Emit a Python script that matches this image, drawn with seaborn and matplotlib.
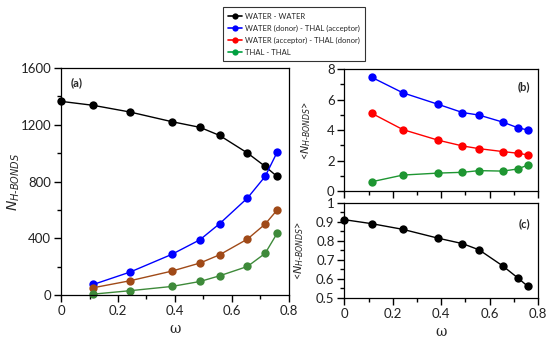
import numpy as np
import pandas as pd
import matplotlib
matplotlib.use("Agg")
import matplotlib.pyplot as plt
import seaborn as sns
from matplotlib.lines import Line2D
from matplotlib.ticker import MultipleLocator

sns.set_style("ticks")
plt.rcParams['font.family'] = ['Lato', 'DejaVu Sans']
plt.rcParams['mathtext.fontset'] = 'dejavusans'

# ---------------- DATA ----------------
omega = [0.0, 0.113, 0.242, 0.389, 0.488, 0.557, 0.655, 0.717, 0.759]

# panel (a): total number of H-bonds
n_ww = [1365, 1337, 1290, 1222, 1182, 1125, 1001, 907, 836]
n_wd_ta = [75, 162, 287, 390, 503, 684, 836, 1006]
n_wa_td = [52, 101, 169, 226, 284, 395, 500, 599]
n_tt = [7, 31, 61, 96, 136, 202, 294, 435]

# panel (b): average number of H-bonds per molecule
avg_wd_ta = [7.46, 6.44, 5.68, 5.15, 4.98, 4.52, 4.15, 4.00]
avg_wa_td = [5.10, 4.03, 3.33, 2.96, 2.78, 2.59, 2.48, 2.37]
avg_tt = [0.61, 1.05, 1.18, 1.23, 1.34, 1.31, 1.45, 1.71]

# panel (c): water - water average
avg_ww = [0.912, 0.891, 0.861, 0.814, 0.786, 0.753, 0.668, 0.605, 0.560]

labels = ["WATER - WATER", "WATER (donor) - THAL (acceptor)",
          "WATER (acceptor) - THAL (donor)", "THAL - THAL"]
colors = ["black", "#0000ff", "#ff0000", "#00a040"]

ylab_a = r'$N_{\mathit{H\text{-}BONDS}}$'
ylab_bc = '<' + r'$N_{\mathit{H\text{-}BONDS}}$' + '>'

fig = plt.figure(figsize=(5.5, 3.4), dpi=100)
ax_a = fig.add_axes([0.111, 0.132, 0.414, 0.668])
ax_b = fig.add_axes([0.626, 0.438, 0.352, 0.359])
ax_c = fig.add_axes([0.626, 0.124, 0.352, 0.279])

line_kw = dict(marker='o', markersize=6, linewidth=1.0, markeredgewidth=0)


def draw(ax, x, y, color):
    sns.lineplot(x=x, y=y, ax=ax, color=color, **line_kw)


# ---------------- PANEL (a) ----------------
draw(ax_a, omega, n_ww, "black")
draw(ax_a, omega[1:], n_wd_ta, "#0000ff")
draw(ax_a, omega[1:], n_wa_td, "#a04a18")
draw(ax_a, omega[1:], n_tt, "#3e8a3a")
ax_a.set_xlim(0, 0.8)
ax_a.set_ylim(0, 1600)
ax_a.set_xticks([0, 0.2, 0.4, 0.6, 0.8])
ax_a.set_xticklabels(['0', '0.2', '0.4', '0.6', '0.8'])
ax_a.xaxis.set_minor_locator(MultipleLocator(0.1))
ax_a.yaxis.set_major_locator(MultipleLocator(400))
ax_a.yaxis.set_minor_locator(MultipleLocator(200))
ax_a.set_xlabel('ω', fontsize=10, family='DejaVu Serif')
ax_a.set_ylabel(ylab_a, fontsize=10)
ax_a.text(0.04, 0.96, '(a)', transform=ax_a.transAxes, fontsize=8,
          fontweight='bold', va='top')

# ---------------- PANEL (b) ----------------
draw(ax_b, omega[1:], avg_wd_ta, "#0000ff")
draw(ax_b, omega[1:], avg_wa_td, "#ff0000")
draw(ax_b, omega[1:], avg_tt, "#1e9632")
ax_b.set_xlim(0, 0.8)
ax_b.set_ylim(0, 8)
ax_b.xaxis.set_major_locator(MultipleLocator(0.2))
ax_b.xaxis.set_minor_locator(MultipleLocator(0.1))
ax_b.yaxis.set_major_locator(MultipleLocator(2))
ax_b.yaxis.set_minor_locator(MultipleLocator(1))
ax_b.set_xticklabels([])
ax_b.set_ylabel(ylab_bc, fontsize=8)
ax_b.text(0.96, 0.9, '(b)', transform=ax_b.transAxes, fontsize=8,
          fontweight='bold', va='top', ha='right')

# ---------------- PANEL (c) ----------------
draw(ax_c, omega, avg_ww, "black")
ax_c.set_xlim(0, 0.8)
ax_c.set_ylim(0.5, 1.0)
ax_c.set_xticks([0, 0.2, 0.4, 0.6, 0.8])
ax_c.set_xticklabels(['0', '0.2', '0.4', '0.6', '0.8'])
ax_c.xaxis.set_minor_locator(MultipleLocator(0.1))
ax_c.set_yticks([0.5, 0.6, 0.7, 0.8, 0.9, 1.0])
ax_c.set_yticklabels(['0.5', '0.6', '0.7', '0.8', '0.9', '1'])
ax_c.yaxis.set_minor_locator(MultipleLocator(0.05))
ax_c.set_xlabel('ω', fontsize=10, family='DejaVu Serif')
ax_c.set_ylabel(ylab_bc, fontsize=8)
ax_c.text(0.96, 0.84, '(c)', transform=ax_c.transAxes, fontsize=8,
          fontweight='bold', va='top', ha='right')

for ax in (ax_a, ax_b, ax_c):
    ax.tick_params(axis='both', which='major', direction='out', length=5,
                   width=1.0, color='black', labelsize=9.5, pad=2,
                   labelcolor='#222222')
    ax.tick_params(axis='both', which='minor', direction='out', length=3,
                   width=1.0, color='black')
    for sp in ax.spines.values():
        sp.set_visible(True)
        sp.set_linewidth(0.9)
        sp.set_color('black')
    for ln in ax.lines:
        ln.set_clip_on(False)

ax_a.yaxis.set_label_coords(-0.17, 0.5)
ax_b.yaxis.set_label_coords(-0.16, 0.5)
ax_c.yaxis.set_label_coords(-0.2, 0.5)

# ---------------- LEGEND ----------------
handles = [Line2D([], [], color=c, marker='o', markersize=4.5,
                  markeredgewidth=0, linewidth=1.2) for c in colors]
leg = fig.legend(handles, labels, loc='upper center',
                 bbox_to_anchor=(0.535, 0.99), fontsize=5.5, frameon=True,
                 fancybox=False, edgecolor='black', handlelength=1.8,
                 handletextpad=0.4, borderpad=0.7, labelspacing=0.65)
leg.get_frame().set_linewidth(0.8)

fig.savefig('out.png', dpi=100)
